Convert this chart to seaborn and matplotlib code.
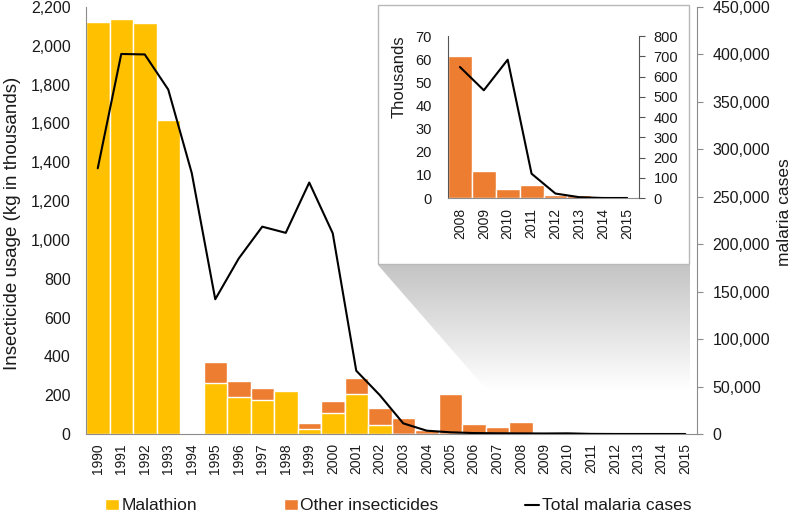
"""
Insecticide usage vs malaria cases, with zoomed inset for 2008-2015
"""
import matplotlib
matplotlib.use('Agg')
import matplotlib.pyplot as plt
from matplotlib.patches import Rectangle, Polygon, Patch
from matplotlib.lines import Line2D
from matplotlib.ticker import FuncFormatter, MultipleLocator
import seaborn as sns
import numpy as np

years = ['1990', '1991', '1992', '1993', '1994', '1995', '1996', '1997', '1998',
         '1999', '2000', '2001', '2002', '2003', '2004', '2005', '2006', '2007',
         '2008', '2009', '2010', '2011', '2012', '2013', '2014', '2015']
# insecticide usage, kg in thousands
malathion = [2125, 2140, 2115, 1620, 0, 264, 192, 175, 220, 26, 106, 204, 46,
             0, 0, 0, 0, 0, 0, 0, 0, 0, 0, 0, 0, 0]
other = [0, 0, 0, 0, 0, 105, 81, 64, 7, 32, 64, 83, 86,
         81, 20, 206, 52, 34, 61.4, 11.8, 3.9, 5.8, 1.2, 1.3, 0, 0]
malaria = [280000, 400500, 400000, 363000, 275000, 142000, 185000, 218500,
           212000, 265000, 211500, 66700, 41000, 11200, 3500, 1800, 1000, 750,
           647, 532, 683, 120, 22, 4, 0, 0]
inset_from = 18  # 2008 onwards

YELLOW = '#FFC000'
ORANGE = '#ED7D31'
SPINE = '#8c8c8c'
TEXT = '#1a1a1a'

sns.set_style('white')
plt.rcParams['font.family'] = ['Liberation Sans', 'DejaVu Sans']
plt.rcParams['text.color'] = TEXT
plt.rcParams['axes.labelcolor'] = TEXT
plt.rcParams['xtick.color'] = TEXT
plt.rcParams['ytick.color'] = TEXT

W, H = 797, 513
fig = plt.figure(figsize=(W / 100, H / 100), dpi=100)


def px_axes(left, top, right, bottom, **kw):
    return fig.add_axes([left / W, 1 - bottom / H, (right - left) / W, (bottom - top) / H], **kw)


comma = FuncFormatter(lambda v, p: f'{v:,.0f}')
total = [m + o for m, o in zip(malathion, other)]
pos = np.arange(len(years))

# ---- main chart
ax = px_axes(86, 7, 697, 434, zorder=0)
sns.barplot(x=pos, y=total, color=ORANGE, width=1, saturation=1, errorbar=None,
            edgecolor='white', linewidth=1, native_scale=True, ax=ax)
sns.barplot(x=pos, y=malathion, color=YELLOW, width=1, saturation=1, errorbar=None,
            edgecolor='white', linewidth=1, native_scale=True, ax=ax)
ax.set_xlim(-0.5, len(years) - 0.5)
ax.set_ylim(0, 2200)
ax.yaxis.set_major_locator(MultipleLocator(200))
ax.yaxis.set_major_formatter(comma)
ax.set_xticks(pos)
ax.set_xticklabels(years, rotation=90)
ax.tick_params(axis='y', length=0, pad=11, labelsize=11.5)
ax.tick_params(axis='x', length=0, pad=6.5, labelsize=10)
ax.set_xlabel('')
ax.set_ylabel('Insecticide usage (kg in thousands)', fontsize=13.5)
ax.yaxis.set_label_coords(-0.1056, 0.494)
for s in ['top', 'right']:
    ax.spines[s].set_visible(False)
for s in ['left', 'bottom']:
    ax.spines[s].set_color(SPINE)

ax2 = ax.twinx()
sns.lineplot(x=pos, y=malaria, color='black', linewidth=1.5, ax=ax2)
ax2.set_ylim(0, 450000)
ax2.yaxis.set_major_locator(MultipleLocator(50000))
ax2.yaxis.set_major_formatter(comma)
ax2.tick_params(axis='y', length=4, color=SPINE, pad=7, labelsize=11.5)
ax2.set_ylabel('malaria cases', fontsize=12.5)
ax2.yaxis.set_label_coords(1.1309, 0.52)
for s in ['top', 'left', 'bottom']:
    ax2.spines[s].set_visible(False)
ax2.spines['right'].set_color(SPINE)

# ---- overlay: callout shadow and inset frame
ov = fig.add_axes([0, 0, 1, 1], zorder=2)
ov.set_xlim(0, W)
ov.set_ylim(H, 0)
ov.axis('off')
shade = np.linspace(0.77, 1.0, 120)
grad = np.repeat(shade[:, None, None], 3, axis=2)
img = ov.imshow(grad, extent=[378, 690, 390, 265], aspect='auto', interpolation='bilinear')
clip = Polygon([[378, 265], [690, 265], [690, 390], [487, 390]], closed=True,
               transform=ov.transData, facecolor='none', edgecolor='none')
ov.add_patch(clip)
img.set_clip_path(clip)
ov.add_patch(Rectangle((378, 5), 311, 259, facecolor='white', edgecolor='#b8b8b8', lw=1))

# ---- inset
ix = px_axes(448, 36, 639, 198, zorder=3)
iyears = years[inset_from:]
ipos = np.arange(len(iyears))
sns.barplot(x=ipos, y=other[inset_from:], color=ORANGE, width=1, saturation=1,
            errorbar=None, edgecolor='white', linewidth=1, native_scale=True, ax=ix)
ix.set_xlim(-0.5, len(iyears) - 0.5)
ix.set_ylim(0, 70)
ix.yaxis.set_major_locator(MultipleLocator(10))
ix.set_xticks(ipos)
ix.set_xticklabels(iyears, rotation=90)
ix.tick_params(axis='y', length=0, pad=11.5, labelsize=10.5)
ix.tick_params(axis='x', length=0, pad=7, labelsize=10)
ix.set_xlabel('')
ix.set_ylabel('Thousands', fontsize=12)
ix.yaxis.set_label_coords(-0.217, 0.75)
ix.patch.set_alpha(0)
for s in ['top', 'right']:
    ix.spines[s].set_visible(False)
ix.spines['left'].set_color('#555555')
ix.spines['bottom'].set_color(SPINE)

ix2 = ix.twinx()
ix2.set_zorder(4)
sns.lineplot(x=ipos, y=malaria[inset_from:], color='black', linewidth=1.5, ax=ix2)
ix2.set_ylim(0, 800)
ix2.yaxis.set_major_locator(MultipleLocator(100))
ix2.tick_params(axis='y', length=4, color='#555555', pad=6.5, labelsize=10.5)
ix2.set_ylabel('')
for s in ['top', 'left', 'bottom']:
    ix2.spines[s].set_visible(False)
ix2.spines['right'].set_color('#555555')

# ---- legend
handles = [Patch(facecolor=YELLOW), Patch(facecolor=ORANGE),
           Line2D([], [], color='black', linewidth=1.5)]
labels = ['Malathion', 'Other insecticides', 'Total malaria cases']
fig.legend(handles, labels, loc='center left', bbox_to_anchor=(105 / W, 1 - 506 / H),
           ncol=3, frameon=False, fontsize=12.5, handlelength=0.8, handleheight=0.6,
           handletextpad=0.15, columnspacing=5.0, borderpad=0, borderaxespad=0)

plt.savefig('out.png', dpi=100)
plt.close()
